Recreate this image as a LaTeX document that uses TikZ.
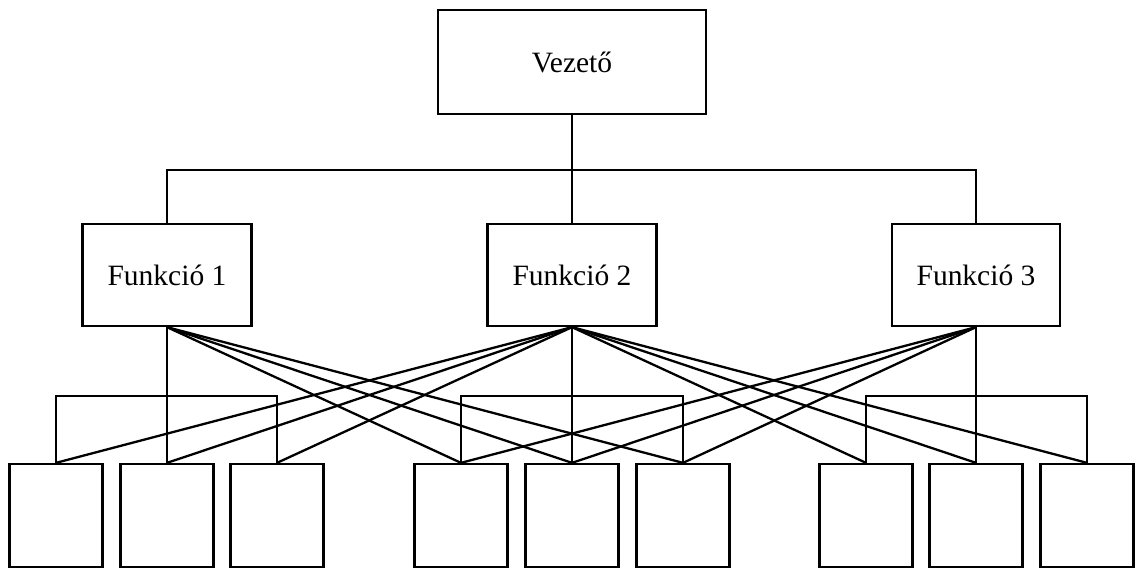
\documentclass[tikz,border=0pt]{standalone}
\usepackage{fontspec}
\setmainfont{Liberation Serif}
\begin{document}
\begin{tikzpicture}[x=1pt,y=-1pt,line width=2.3pt,
  box/.style={draw,rectangle,inner sep=0pt,font=\fontsize{29.5}{34}\selectfont},
  leaf/.style={draw,rectangle,inner sep=0pt,minimum width=93pt,minimum height=103pt}]
\useasboundingbox (0,0) rectangle (1136,570);
% top level
\node[box,minimum width=268pt,minimum height=104pt] (top) at (572,62) {Vezető};
% function level
\node[box,minimum width=169pt,minimum height=102pt] (f1) at (167,275) {Funkció 1};
\node[box,minimum width=169pt,minimum height=102pt] (f2) at (572,275) {Funkció 2};
\node[box,minimum width=168pt,minimum height=102pt] (f3) at (976,275) {Funkció 3};
% bottom level
\foreach \i/\x in {1/56,2/167,3/277,4/461,5/572,6/683,7/866,8/976,9/1087}
  \node[leaf] (b\i) at (\x,515.5) {};
% tree from the top box
\coordinate (hub) at (top.south |- 0,170);
\draw (top.south) -- (hub);
\draw (f1.north) |- (hub) -| (f3.north);
\draw (hub) -- (f2.north);
% brackets of each group
\foreach \f/\a/\m/\c in {f1/b1/b2/b3, f2/b4/b5/b6, f3/b7/b8/b9}{
  \draw (\f.south) -- (\m.north);
  \draw (\a.north) -- (\a.north |- 0,396) -- (\c.north |- 0,396) -- (\c.north);
}
% cross links between functions and groups
\foreach \t in {b4,b5,b6}{
  \draw (f1.south) -- (\t.north);
  \draw (f3.south) -- (\t.north);
}
\foreach \t in {b1,b2,b3,b7,b8,b9}
  \draw (f2.south) -- (\t.north);
\end{tikzpicture}
\end{document}
